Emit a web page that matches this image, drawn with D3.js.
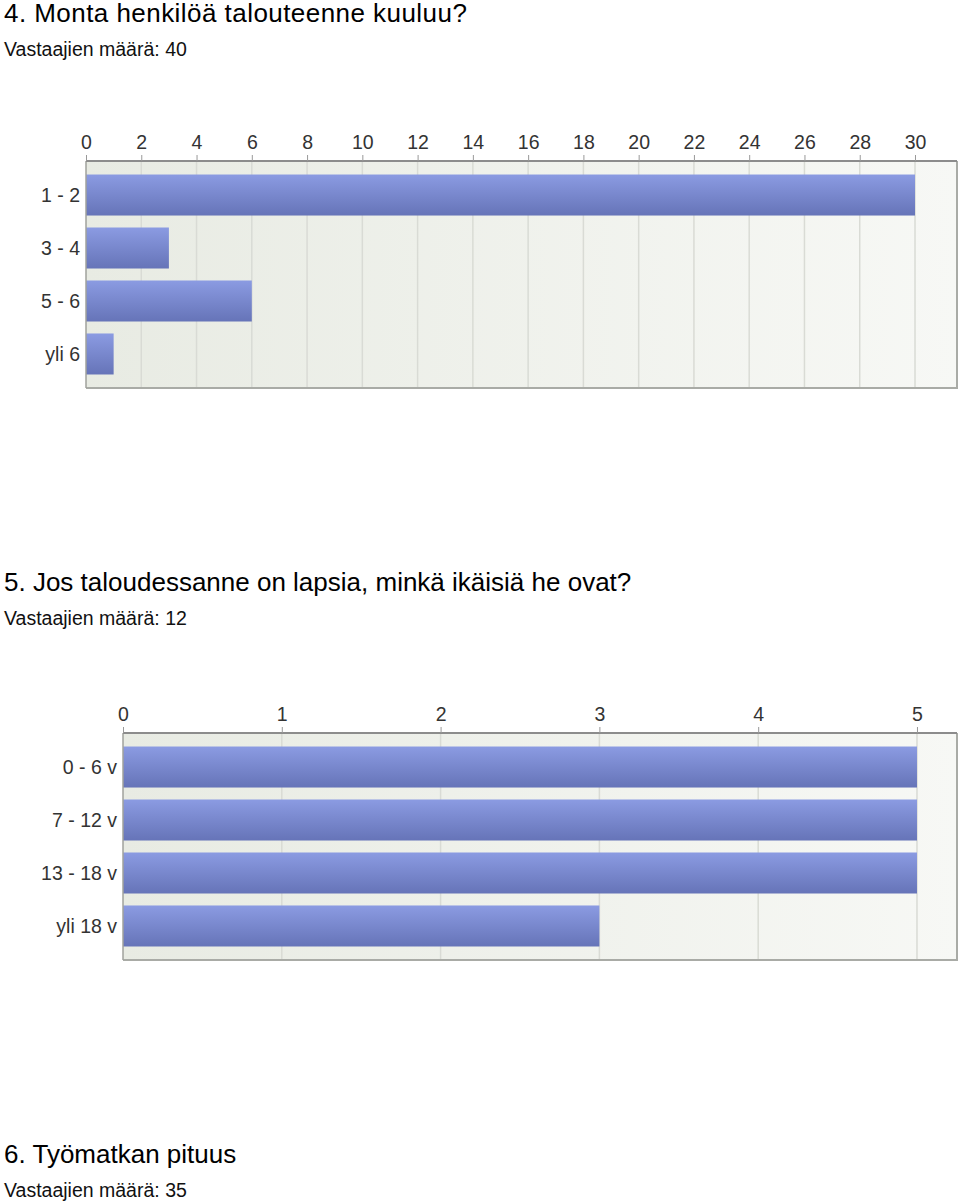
<!DOCTYPE html>
<html>
<head>
<meta charset="utf-8">
<script src="https://cdn.jsdelivr.net/npm/d3@7"></script>
<style>
  body { margin: 0; background: #fff; font-family: "Liberation Sans", Arial, sans-serif; }
  svg { display: block; }
  .title { font-size: 26px; fill: #000; }
  .sub { font-size: 19.5px; fill: #111; }
  .tick text { font-size: 19.5px; fill: #333; }
</style>
</head>
<body>
<div id="chart"></div>
<script>
// question 4
const q4Categories = [`1 - 2`, `3 - 4`, `5 - 6`, `yli 6`];
const q4Values = [30, 3, 6, 1];
const q4Ticks = d3.range(0, 31, 2);

// question 5
const q5Categories = [`0 - 6 v`, `7 - 12 v`, `13 - 18 v`, `yli 18 v`];
const q5Values = [5, 5, 5, 3];
const q5Ticks = [0, 1, 2, 3, 4, 5];

const titles = [
  `4. Monta henkilöä talouteenne kuuluu?`,
  `5. Jos taloudessanne on lapsia, minkä ikäisiä he ovat?`,
  `6. Työmatkan pituus`
];
const respondents = [40, 12, 35];

const svg = d3.select(`#chart`).append(`svg`)
    .attr(`width`, 960)
    .attr(`height`, 1202);

const defs = svg.append(`defs`);
const bg = defs.append(`linearGradient`).attr(`id`, `bgGrad`)
    .attr(`x1`, `0`).attr(`x2`, `1`).attr(`y1`, `0`).attr(`y2`, `0`);
bg.append(`stop`).attr(`offset`, `0%`).attr(`stop-color`, `#e8ebe3`);
bg.append(`stop`).attr(`offset`, `100%`).attr(`stop-color`, `#f7f8f5`);

const barGrad = defs.append(`linearGradient`).attr(`id`, `barGrad`)
    .attr(`x1`, `0`).attr(`x2`, `0`).attr(`y1`, `0`).attr(`y2`, `1`);
barGrad.append(`stop`).attr(`offset`, `0%`).attr(`stop-color`, `#8b9be2`);
barGrad.append(`stop`).attr(`offset`, `100%`).attr(`stop-color`, `#6674b8`);

const drawHeading = (i, y, spacing) => {
  svg.append(`text`).attr(`class`, `title`)
      .attr(`x`, 4).attr(`y`, y)
      .attr(`letter-spacing`, spacing || 0)
      .text(titles[i]);
  svg.append(`text`).attr(`class`, `sub`)
      .attr(`x`, 4).attr(`y`, y + 34)
      .text(`Vastaajien määrä: ${respondents[i]}`);
};

const drawBars = (categories, values, ticks, opts) => {
  const x = d3.scaleLinear()
      .domain([0, opts.xMax])
      .range([opts.left, 957]);
  const y = d3.scaleBand()
      .domain(categories)
      .range([opts.top, opts.bottom])
      .paddingInner(0.226)
      .paddingOuter(0.255);

  const g = svg.append(`g`);

  // plot background
  g.append(`rect`)
      .attr(`x`, opts.left).attr(`y`, opts.top)
      .attr(`width`, 957 - opts.left).attr(`height`, opts.bottom - opts.top)
      .attr(`fill`, `url(#bgGrad)`);

  // grid
  g.selectAll(`.grid`)
      .data(ticks.filter((d) => d > 0))
    .enter().append(`line`)
      .attr(`class`, `grid`)
      .attr(`x1`, (d) => x(d)).attr(`x2`, (d) => x(d))
      .attr(`y1`, opts.top).attr(`y2`, opts.bottom)
      .attr(`stroke`, `#d9dbd5`)
      .attr(`stroke-width`, 1.5);

  g.selectAll(`.bar`)
      .data(values)
    .enter().append(`rect`)
      .attr(`class`, `bar`)
      .attr(`x`, x(0))
      .attr(`y`, (d, i) => y(categories[i]))
      .attr(`width`, (d) => x(d) - x(0))
      .attr(`height`, y.bandwidth())
      .attr(`fill`, `url(#barGrad)`);

  // right and bottom frame
  g.append(`path`)
      .attr(`d`, `M957,${opts.top}V${opts.bottom}H${opts.left}`)
      .attr(`fill`, `none`)
      .attr(`stroke`, `#a9aba6`)
      .attr(`stroke-width`, 2);

  // left edge
  g.append(`line`)
      .attr(`x1`, opts.left).attr(`x2`, opts.left)
      .attr(`y1`, opts.top).attr(`y2`, opts.bottom)
      .attr(`stroke`, `#a0a29d`)
      .attr(`stroke-width`, 1.5);

  // top axis
  const axis = g.append(`g`)
      .attr(`transform`, `translate(0,${opts.top})`)
      .call(d3.axisTop(x).tickValues(ticks).tickFormat(d3.format(`d`))
        .tickSize(6).tickPadding(6).tickSizeOuter(0));
  axis.select(`.domain`)
      .attr(`d`, `M${opts.left},0H957`)
      .attr(`stroke`, `#8c8c8c`)
      .attr(`stroke-width`, 2);
  axis.selectAll(`.tick line`).attr(`stroke`, `#999`);
  axis.selectAll(`.tick text`).attr(`font-family`, `"Liberation Sans", Arial, sans-serif`);

  // category labels
  g.selectAll(`.cat`)
      .data(categories)
    .enter().append(`text`)
      .attr(`class`, `cat`)
      .attr(`x`, opts.left - 6)
      .attr(`y`, (d) => y(d) + y.bandwidth() / 2)
      .attr(`dy`, `0.35em`)
      .attr(`text-anchor`, `end`)
      .attr(`font-size`, 19.5)
      .attr(`fill`, `#333`)
      .text((d) => d);
};

drawHeading(0, 22, 0.45);
drawBars(q4Categories, q4Values, q4Ticks, { left: 86, top: 161, bottom: 388, xMax: 31.52 });

drawHeading(1, 591);
drawBars(q5Categories, q5Values, q5Ticks, { left: 123, top: 733, bottom: 960, xMax: 5.252 });

drawHeading(2, 1163);
</script>
</body>
</html>
